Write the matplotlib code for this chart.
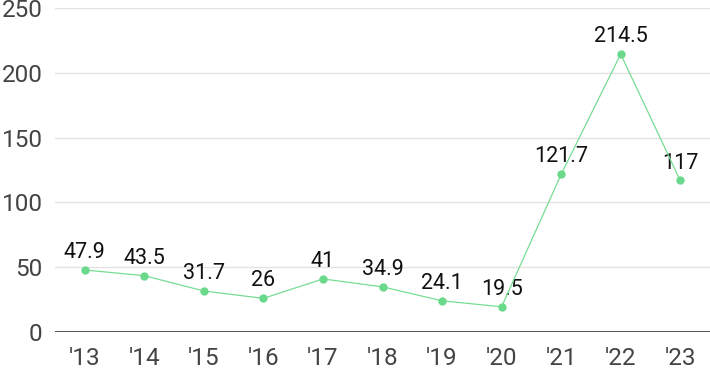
import matplotlib
matplotlib.use("Agg")
import matplotlib.pyplot as plt

years = ["'13", "'14", "'15", "'16", "'17", "'18", "'19", "'20", "'21", "'22", "'23"]
values = [47.9, 43.5, 31.7, 26, 41, 34.9, 24.1, 19.5, 121.7, 214.5, 117]
labels = ["47.9", "43.5", "31.7", "26", "41", "34.9", "24.1", "19.5", "121.7", "214.5", "117"]
yticks = [0, 50, 100, 150, 200, 250]

plt.rcParams['font.family'] = ['Roboto', 'DejaVu Sans']

fig = plt.figure(figsize=(7.1, 3.71), dpi=100)
ax = fig.add_axes([0.0775, 0.105, 0.9225, 0.873])

x = list(range(len(years)))
ax.plot(x, values, color='#77dd93', linewidth=0.9, marker='o',
        markersize=6, markerfacecolor='#6bd98b', markeredgewidth=0, zorder=3)

for xi, v, lab in zip(x, values, labels):
    ax.annotate(lab, (xi, v), xytext=(0, 5), textcoords='offset points',
                ha='center', va='bottom', fontsize=15.5, color='#111111', zorder=2)

ax.set_xlim(-0.5, len(years) - 0.5)
ax.set_ylim(0, 250)
ax.set_yticks(yticks)
ax.set_xticks(x)
ax.set_xticklabels(years)

for t in yticks[1:]:
    ax.axhline(t, color='#e3e3e3', linewidth=1, zorder=1)
ax.axhline(0, color='#333333', linewidth=1.2, zorder=1)

for s in ax.spines.values():
    s.set_visible(False)
ax.tick_params(axis='both', length=0, labelsize=17.5, labelcolor='#444444')
ax.tick_params(axis='y', pad=9)
ax.tick_params(axis='x', pad=11)

fig.savefig("out.png", dpi=100)
